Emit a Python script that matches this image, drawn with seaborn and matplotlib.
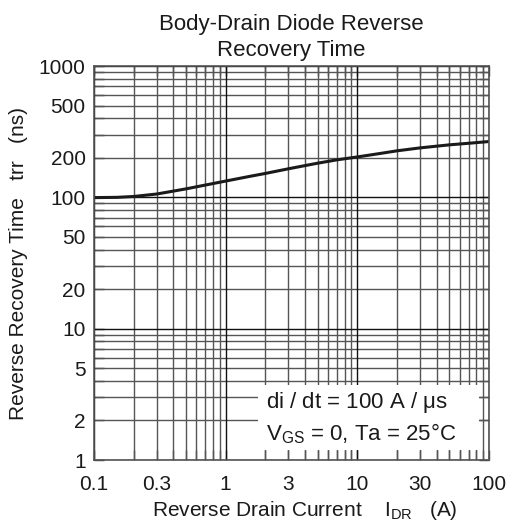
import numpy as np
import pandas as pd
import matplotlib
matplotlib.use("Agg")
import matplotlib.pyplot as plt
import seaborn as sns
from matplotlib.patches import Rectangle
from matplotlib.ticker import FixedLocator, NullFormatter

# data
current_A = [0.1, 0.15, 0.2, 0.3, 0.5, 0.7, 1, 1.5, 2, 3, 5, 7, 10, 15, 20, 30, 50, 70, 100]
trr_ns = [99.5, 100, 101.5, 106, 116, 124, 133, 144, 152, 165, 182, 193, 203, 216, 226, 238, 251, 258, 266]

x_ticks = [0.1, 0.3, 1, 3, 10, 30, 100]
x_tick_labels = ["0.1", "0.3", "1", "3", "10", "30", "100"]
y_ticks = [1, 2, 5, 10, 20, 50, 100, 200, 500, 1000]
y_tick_labels = ["1", "2", "5", "10", "20", "50", "100", "200", "500", "1000"]

title = "Body-Drain Diode Reverse\nRecovery Time"
x_label = r"Reverse Drain Current    I$_{\mathregular{DR}}$   (A)"
y_label = "Reverse Recovery Time   trr   (ns)"
note1 = r"di / dt = 100 A / $\mathregular{\mu}$s"
note2 = r"V$_{\mathregular{GS}}$ = 0, Ta = 25°C"

sns.set_theme(style="ticks")
plt.rcParams["font.family"] = ["Liberation Sans", "DejaVu Sans"]
plt.rcParams["mathtext.fontset"] = "custom"
plt.rcParams["mathtext.rm"] = "Liberation Sans"
plt.rcParams["mathtext.it"] = "Liberation Sans"

fig = plt.figure(figsize=(5.12, 5.30), dpi=100)
ax = fig.add_axes([94 / 512, 1 - 460 / 530, (489 - 94) / 512, (460 - 66) / 530])

df = pd.DataFrame({"I": current_A, "trr": trr_ns})
sns.lineplot(data=df, x="I", y="trr", ax=ax, color="#1a1a1a", lw=2.2, zorder=3)

ax.set_xscale("log")
ax.set_yscale("log")
ax.set_xlim(0.1, 100)
ax.set_ylim(1, 1000)

def decade_minors(lo, hi):
    vals = []
    d = lo
    while d < hi:
        for k in range(2, 10):
            vals.append(d * k)
        d *= 10
    return vals

x_major = [0.1, 1, 10, 100]
y_major = [1, 10, 100, 1000]
x_minor = decade_minors(0.1, 100)
y_minor = decade_minors(1, 1000)
for v in x_minor:
    ax.axvline(v, color="#555555", lw=1.0, zorder=0.8)
for v in y_minor:
    ax.axhline(v, color="#555555", lw=1.0, zorder=0.8)
for v in x_major:
    ax.axvline(v, color="#111111", lw=1.0, zorder=0.85)
for v in y_major:
    ax.axhline(v, color="#111111", lw=1.0, zorder=0.85)

# note box
ax.add_patch(Rectangle((0.415, 0.025), 0.56, 0.165, transform=ax.transAxes,
                       facecolor="white", edgecolor="none", zorder=1.5))
ax.text(0.435, 0.145, note1, transform=ax.transAxes, fontsize=16, va="center",
        ha="left", color="#1a1a1a", zorder=4)
ax.text(0.435, 0.066, note2, transform=ax.transAxes, fontsize=16, va="center",
        ha="left", color="#1a1a1a", zorder=4)

ax.xaxis.set_major_locator(FixedLocator(x_ticks))
ax.set_xticklabels(x_tick_labels)
ax.xaxis.set_minor_locator(FixedLocator(x_minor))
ax.xaxis.set_minor_formatter(NullFormatter())
ax.yaxis.set_major_locator(FixedLocator(y_ticks))
ax.set_yticklabels(y_tick_labels)
ax.yaxis.set_minor_locator(FixedLocator(y_minor))
ax.yaxis.set_minor_formatter(NullFormatter())

ax.tick_params(which="both", direction="in", top=True, right=True,
               length=7, width=1.0, color="#333333", labelsize=15,
               labelcolor="#1a1a1a")
ax.tick_params(axis="x", which="major", pad=11)
ax.tick_params(axis="y", which="major", pad=6)
for s in ax.spines.values():
    s.set_color("#555555")
    s.set_linewidth(1.2)
    s.set_zorder(5)

ax.set_xlabel(x_label, fontsize=15, color="#1a1a1a")
ax.xaxis.set_label_coords(0.533, -0.098)
ax.set_ylabel(y_label, fontsize=15, color="#1a1a1a", labelpad=8)
ax.set_title(title, fontsize=16, color="#1a1a1a", pad=7, linespacing=1.3)

fig.savefig("out.png", dpi=100)
